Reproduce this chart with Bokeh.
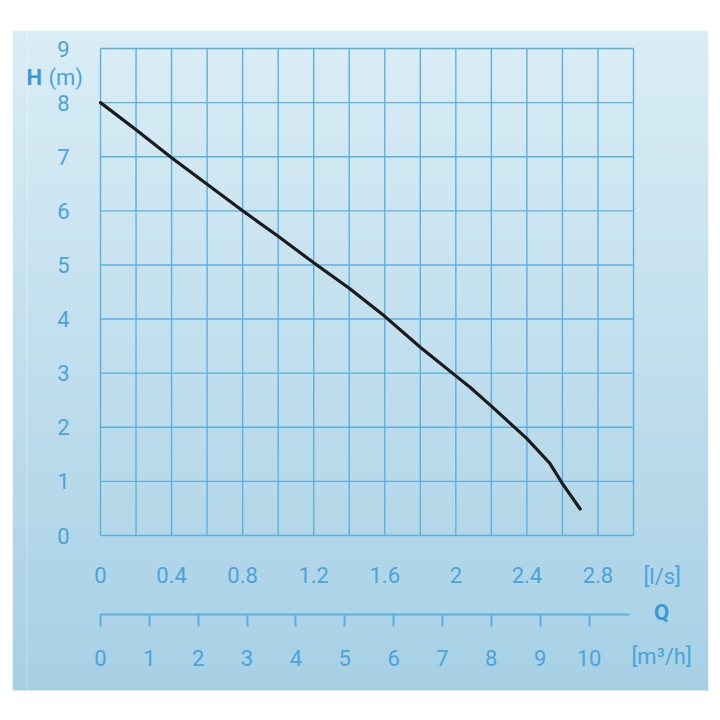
from bokeh.plotting import figure
from bokeh.models import Range1d, LinearAxis, FixedTicker, Label, BoxAnnotation, NumeralTickFormatter
from bokeh.embed import file_html
from bokeh.resources import INLINE

# ---- data ----
flow_ls = [0.0, 0.2, 0.4, 0.6, 0.8, 1.0, 1.2, 1.4, 1.6, 1.8, 2.0, 2.08, 2.2, 2.4, 2.53, 2.6, 2.7]
head_m = [8.0, 7.5, 6.98, 6.49, 6.0, 5.53, 5.04, 4.57, 4.05, 3.48, 2.95, 2.74, 2.39, 1.79, 1.33, 0.96, 0.49]
ls_ticks = [0, 0.4, 0.8, 1.2, 1.6, 2.0, 2.4, 2.8]
m3h_ticks = [0, 1, 2, 3, 4, 5, 6, 7, 8, 9, 10]
h_ticks = [0, 1, 2, 3, 4, 5, 6, 7, 8, 9]
grid_x = [0, 0.2, 0.4, 0.6, 0.8, 1.0, 1.2, 1.4, 1.6, 1.8, 2.0, 2.2, 2.4, 2.6, 2.8, 3.0]
q_max_ls = 3.0
h_max = 9
m3h_axis_end = 10.82

TXT = "#4aa3da"
TXT_B = "#3b98d3"
GRID = "#5cb0e0"
FONT = "Roboto"
FS = "22px"

# panel (frame) geometry in pixels
PL, PT, PW, PH = 12, 30, 696, 660
# where data (0,0) and (3.0, 9) fall, in pixels
X0, X1, Y0, Y1 = 100, 633, 535, 48
sx = (X1 - X0) / q_max_ls
sy = (Y0 - Y1) / h_max
sx_m3h = 48.85  # pixels per m3/h on the printed scale
x_start = (PL - X0) / sx
x_end = (PL + PW - X0) / sx
y_start = (Y0 - (PT + PH)) / sy
y_end = (Y0 - PT) / sy

def px_x(px):
    return (px - X0) / sx

def px_y(py):
    return (Y0 - py) / sy

p = figure(width=PL + PW + 4, height=PT + PH + 10, frame_width=PW, frame_height=PH,
           x_range=Range1d(x_start, x_end), y_range=Range1d(y_start, y_end),
           output_backend="svg", toolbar_location=None,
           x_axis_location=None, y_axis_location=None,
           min_border_left=PL, min_border_top=PT, min_border_right=4, min_border_bottom=10)
p.extra_x_ranges = {"m3h": Range1d((PL - X0) / sx_m3h, (PL + PW - X0) / sx_m3h)}
p.border_fill_color = "white"
p.background_fill_color = None
p.outline_line_color = None
p.xgrid.visible = False
p.ygrid.visible = False

# gradient panel
top_c = (0xda, 0xed, 0xf5)
bot_c = (0xa7, 0xd0, 0xe5)
n = 66
for i in range(n):
    t = (i + 0.5) / n
    col = "#%02x%02x%02x" % tuple(int(round(a * (1 - t) + b * t)) for a, b in zip(top_c, bot_c))
    a = PT + PH * i / n
    b = PT + PH * (i + 1) / n + 0.6
    p.add_layout(BoxAnnotation(top=a, bottom=b, top_units="canvas", bottom_units="canvas",
                               fill_color=col, fill_alpha=1, line_color=None, level="image"))
p.add_layout(BoxAnnotation(left=26, right=27, left_units="canvas", right_units="canvas",
                           fill_color="white", fill_alpha=0.35, line_color=None, level="image"))

# grid
p.segment(x0=grid_x, y0=[0] * len(grid_x), x1=grid_x, y1=[h_max] * len(grid_x),
          line_color=GRID, line_width=1.4)
p.segment(x0=[0] * len(h_ticks), y0=h_ticks, x1=[q_max_ls] * len(h_ticks), y1=h_ticks,
          line_color=GRID, line_width=1.4)

# y axis
yax = LinearAxis(ticker=FixedTicker(ticks=h_ticks), fixed_location=0)
yax.axis_line_color = None
yax.major_tick_line_color = None
yax.minor_tick_line_color = None
yax.major_tick_in = 0
yax.major_tick_out = 0
yax.major_label_standoff = 31
yax.major_label_text_font = FONT
yax.major_label_text_font_size = FS
yax.major_label_text_color = TXT
p.add_layout(yax, "left")

# l/s axis
xax = LinearAxis(ticker=FixedTicker(ticks=ls_ticks), formatter=NumeralTickFormatter(format="0.[0]"),
                 fixed_location=0)
xax.axis_line_color = None
xax.major_tick_line_color = None
xax.minor_tick_line_color = None
xax.major_tick_in = 0
xax.major_tick_out = 0
xax.major_label_standoff = 31
xax.major_label_text_font = FONT
xax.major_label_text_font_size = FS
xax.major_label_text_color = TXT
p.add_layout(xax, "below")

# m3/h axis
max_ = LinearAxis(x_range_name="m3h", ticker=FixedTicker(ticks=m3h_ticks),
                  fixed_location=px_y(614), bounds=(0, m3h_axis_end))
max_.axis_line_color = GRID
max_.axis_line_width = 2
max_.major_tick_line_color = GRID
max_.major_tick_line_width = 2
max_.major_tick_in = 0
max_.major_tick_out = 12
max_.minor_tick_line_color = None
max_.major_label_standoff = 23
max_.major_label_text_font = FONT
max_.major_label_text_font_size = FS
max_.major_label_text_color = TXT
p.add_layout(max_, "below")

# curve
p.line(flow_ls, head_m, line_color="#1b1b1b", line_width=3.2, line_join="round", line_cap="round")

# extra labels
def lab(x, y, text, align="left", bold=False):
    p.add_layout(Label(x=x, y=y, text=text, text_align=align, text_baseline="middle",
                       text_font=FONT, text_font_size=FS,
                       text_color=TXT_B if bold else TXT,
                       text_font_style="bold" if bold else "normal"))

lab(px_x(26), px_y(77), "H", bold=True)
lab(px_x(48), px_y(77), "(m)")
lab(px_x(643), px_y(576), "[l/s]")
lab(px_x(661), px_y(612), "Q", align="center", bold=True)
lab(px_x(631), px_y(656), "[m³/h]")

open("out.html", "w").write(file_html(p, INLINE))
